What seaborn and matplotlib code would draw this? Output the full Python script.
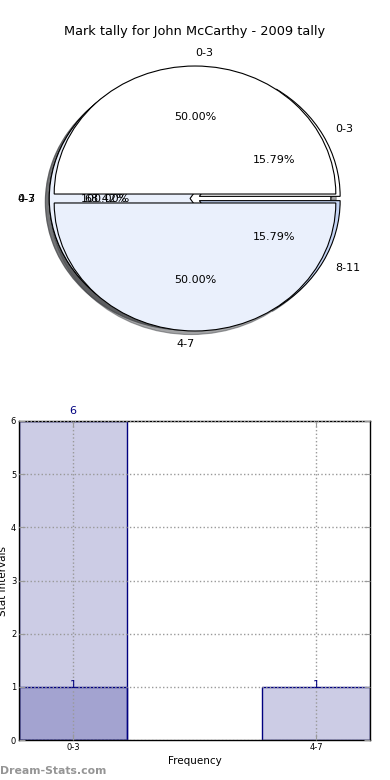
import seaborn as sns
import pandas as pd
import matplotlib
matplotlib.use("Agg")
import matplotlib.pyplot as plt

# pie data (three pies end up drawn on top of each other, as in the original)
pie_full_labels = ['0-3']
pie_full_values = [1]
pie_b_labels = ['0-3', '4-7', '8-11']
pie_b_values = [3, 13, 3]
pie_a_labels = ['0-3', '4-7']
pie_a_values = [1, 1]

# bar data
bar_order = ['0-3', '4-7']
total_cats = ['0-3']
total_vals = [6]
count_cats = ['0-3', '4-7']
count_vals = [1, 1]

pie_colors = ['white', '#eaf0fc', '#c4d4f4']
navy = '#000080'


def draw_pie(ax, values, labels):
    return ax.pie(values, labels=labels, colors=pie_colors[:len(values)],
                  explode=[0.035] * len(values), autopct='%.2f%%', shadow=True,
                  startangle=0, counterclock=True,
                  wedgeprops={'linewidth': 0.8, 'edgecolor': 'black'},
                  textprops={'fontsize': 8, 'color': 'black'})


sns.set_style("white")
plt.rcParams['font.family'] = ['DejaVu Sans']
plt.rcParams['text.color'] = 'black'
plt.rcParams['axes.labelcolor'] = 'black'
plt.rcParams['xtick.labelcolor'] = 'black'
plt.rcParams['ytick.labelcolor'] = 'black'

fig = plt.figure(figsize=(3.9, 7.8), dpi=100)

# ---- pie ----
ax1 = fig.add_axes([19 / 390, 1 - 358.5 / 780, 352 / 390, 320 / 780])
draw_pie(ax1, pie_full_values, pie_full_labels)
draw_pie(ax1, pie_b_values, pie_b_labels)
wedges, texts, autotexts = draw_pie(ax1, pie_a_values, pie_a_labels)
# old-style alignment of the top/bottom labels
texts[0].set_ha('left')
texts[1].set_ha('right')
ax1.set_aspect('auto')
ax1.set_xlim(-1.25, 1.25)
ax1.set_ylim(-1.25, 1.25)
ax1.set_title("Mark tally for John McCarthy - 2009 tally", fontsize=9.3, pad=2,
              color='black')

# ---- bars ----
ax2 = fig.add_axes([19 / 390, 40 / 780, 351 / 390, 319 / 780])
sns.barplot(x=total_cats, y=total_vals, order=bar_order, width=0.445,
            color=navy, saturation=1, edgecolor=navy, linewidth=1, ax=ax2)
sns.barplot(x=count_cats, y=count_vals, order=bar_order, width=0.445,
            color=navy, saturation=1, edgecolor=navy, linewidth=1, ax=ax2)
for p in ax2.patches:
    p.set_facecolor((0, 0, 0.5, 0.2))
    p.set_edgecolor(navy)

for cats, vals in [(total_cats, total_vals), (count_cats, count_vals)]:
    for c, v in zip(cats, vals):
        ax2.text(bar_order.index(c), v * 1.03, str(v), ha='center', va='center',
                 color=navy, fontsize=8)

ax2.set_xlim(-0.222, 1.222)
ax2.set_ylim(0, 6)
ax2.set_yticks(range(0, 7))
ax2.grid(True, linestyle=':', color='#999999', linewidth=1)
ax2.set_axisbelow(False)
for s in ax2.spines.values():
    s.set_visible(True)
    s.set_color('black')
    s.set_linewidth(1)
ax2.tick_params(direction='in', length=4, color='#999999', labelsize=6,
                top=True, right=True, bottom=True, left=True, pad=2)
ax2.set_xlabel("Frequency", fontsize=7.5, labelpad=3)
ax2.set_ylabel("Stat Intervals", fontsize=7.5, labelpad=2)

fig.text(0.0, 9 / 780, "Dream-Stats.com", color='#959595', fontsize=7.8,
         fontweight='bold', ha='left', va='center')

fig.savefig("out.png", dpi=100)
